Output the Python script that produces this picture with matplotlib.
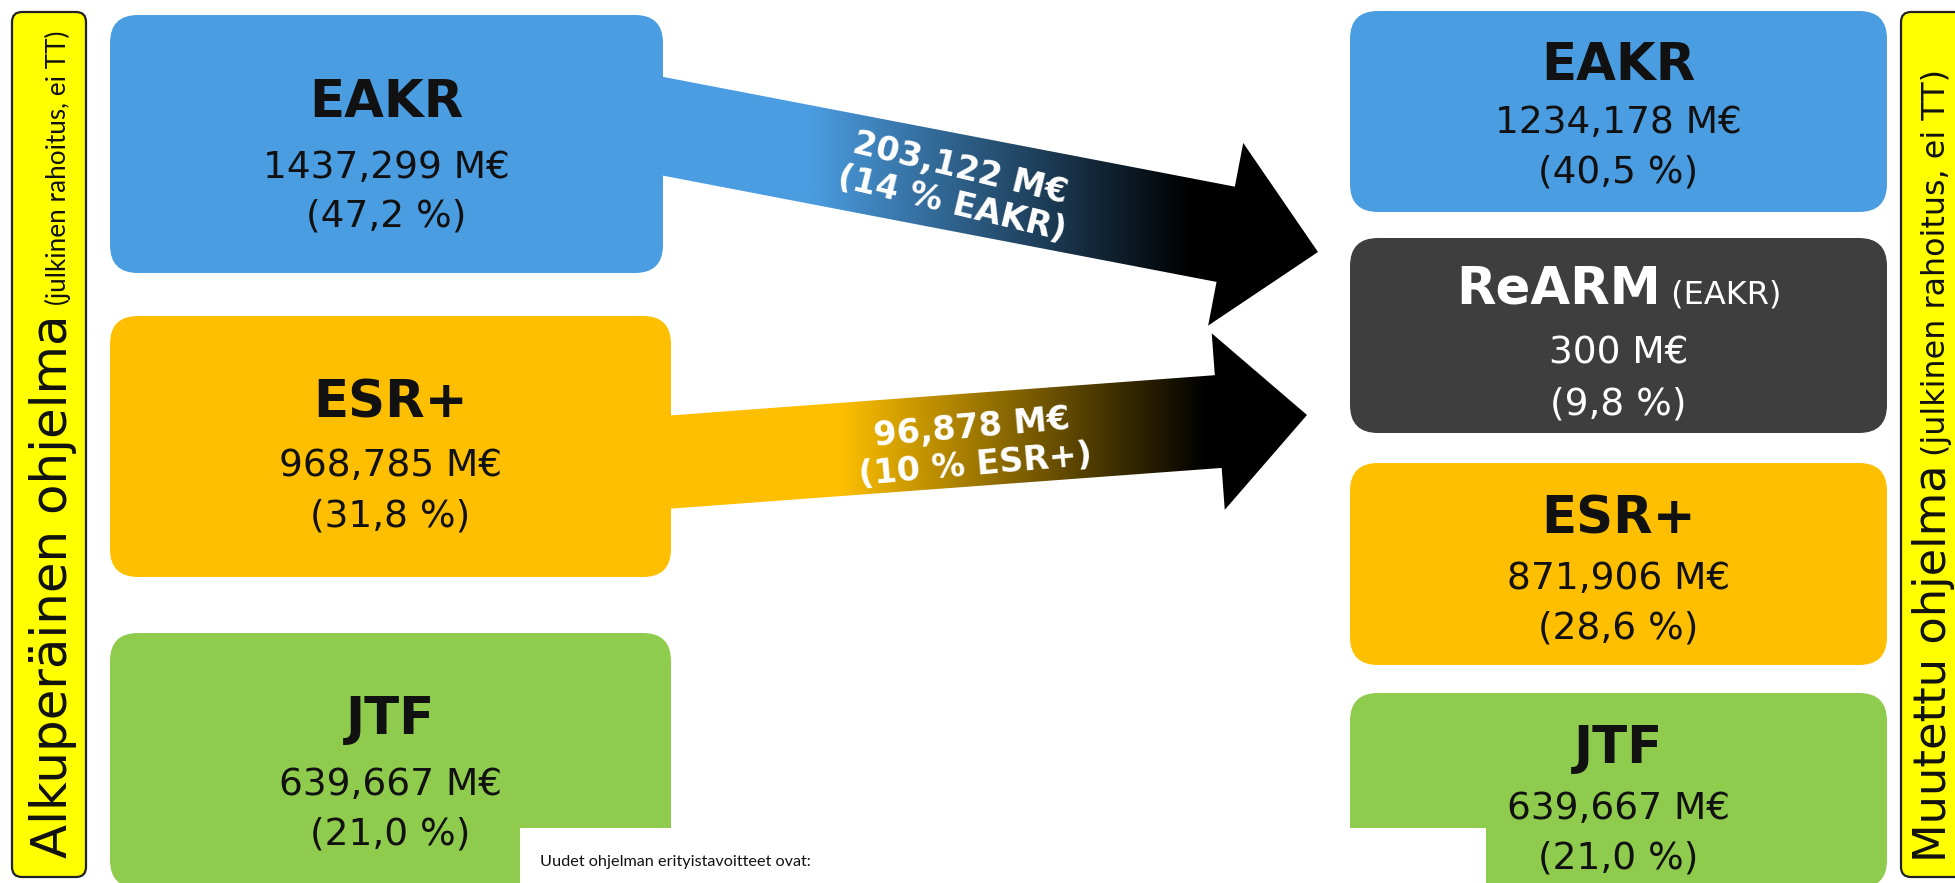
import numpy as np
import matplotlib
matplotlib.use("Agg")
import matplotlib.pyplot as plt
from matplotlib.patches import FancyBboxPatch, Polygon, Rectangle
from matplotlib import font_manager

plt.rcParams['font.family'] = ['DejaVu Sans']

# ---------------- data ----------------
left_funds = ['EAKR', 'ESR+', 'JTF']
left_values = [1437.299, 968.785, 639.667]
left_shares = [47.2, 31.8, 21.0]

right_funds = ['EAKR', 'ReARM', 'ESR+', 'JTF']
right_values = [1234.178, 300, 871.906, 639.667]
right_shares = [40.5, 9.8, 28.6, 21.0]
right_suffix = {'ReARM': '(EAKR)'}

transfer_src = ['EAKR', 'ESR+']
transfer_values = [203.122, 96.878]
transfer_shares = [14, 10]

left_label = ('Alkuperäinen ohjelma', '(julkinen rahoitus, ei TT)')
right_label = ('Muutettu ohjelma', '(julkinen rahoitus, ei TT)')
note_text = 'Uudet ohjelman erityistavoitteet ovat:'

# ---------------- style ----------------
colors = {'EAKR': '#4B9DE1', 'ESR+': '#FDBF00', 'JTF': '#8FCC4E', 'ReARM': '#3E3E3E'}
text_colors = {'EAKR': '#111111', 'ESR+': '#111111', 'JTF': '#111111', 'ReARM': '#FFFFFF'}
BAR_YELLOW = '#FFFF00'
NARROW = ['Lato', 'DejaVu Sans']
_installed = {f.name for f in font_manager.fontManager.ttflist}
CONDENSED = ['Liberation Sans Narrow'] if 'Liberation Sans Narrow' in _installed else NARROW

W, H = 1956, 883
fig = plt.figure(figsize=(W / 100, H / 100), dpi=100)
ax = fig.add_axes([0, 0, 1, 1])
ax.set_xlim(0, W)
ax.set_ylim(H, 0)
ax.axis('off')
renderer = fig.canvas.get_renderer()

TITLE_PT = 37
VALUE_PT = 27
SUFFIX_PT = 23

# box geometry (pixels): x, y, w, h  and baseline offsets of the three text rows
left_boxes = [(110, 15, 553, 258), (110, 316, 561, 261), (110, 633, 561, 255)]
left_offsets = [(102, 163, 212), (101, 160, 210), (101, 162, 212)]
right_boxes = [(1350, 11, 537, 201), (1350, 238, 537, 195), (1350, 463, 537, 202), (1350, 693, 537, 195)]
right_offsets = [(69, 122, 171), (66, 126, 176), (70, 126, 176), (70, 126, 175)]


def fmt_value(v):
    s = f'{int(v)}' if float(v).is_integer() else f'{v:.3f}'.replace('.', ',')
    return s + ' M€'


def fmt_share(p):
    return '(' + f'{p:.1f}'.replace('.', ',') + ' %)'


def text_width(s, **kw):
    t = ax.text(0, 0, s, **kw)
    w = t.get_window_extent(renderer=renderer).width
    t.remove()
    return w


def draw_box(x, y, w, h, fc, r=28, z=3):
    p = FancyBboxPatch((x, y), w, h, boxstyle=f'round,pad=0,rounding_size={r}',
                       facecolor=fc, edgecolor='none', zorder=z)
    ax.add_patch(p)


def draw_fund(box, fund, value, share, offsets, suffix=None):
    x, y, w, h = box
    draw_box(x, y, w, h, colors[fund])
    cx = x + w / 2
    tc = text_colors[fund]
    if suffix:
        w1 = text_width(fund, fontsize=TITLE_PT, weight='bold')
        w2 = text_width(' ' + suffix, fontsize=SUFFIX_PT)
        x0 = cx - (w1 + w2) / 2
        ax.text(x0, y + offsets[0], fund, fontsize=TITLE_PT, weight='bold', color=tc,
                ha='left', va='baseline', zorder=4)
        ax.text(x0 + w1, y + offsets[0], ' ' + suffix, fontsize=SUFFIX_PT, color=tc,
                ha='left', va='baseline', zorder=4)
    else:
        ax.text(cx, y + offsets[0], fund, fontsize=TITLE_PT, weight='bold', color=tc,
                ha='center', va='baseline', zorder=4)
    ax.text(cx, y + offsets[1], fmt_value(value), fontsize=VALUE_PT, color=tc,
            ha='center', va='baseline', zorder=4)
    ax.text(cx, y + offsets[2], fmt_share(share), fontsize=VALUE_PT, color=tc,
            ha='center', va='baseline', zorder=4)


for box, off, f, v, p in zip(left_boxes, left_offsets, left_funds, left_values, left_shares):
    draw_fund(box, f, v, p, off)
for box, off, f, v, p in zip(right_boxes, right_offsets, right_funds, right_values, right_shares):
    draw_fund(box, f, v, p, off, right_suffix.get(f))

# ---------------- arrows ----------------
arrow_geom = [
    # start, tip, shaft width, head width, head length, gradient start x, gradient end x,
    # label position (fraction along arrow), label vertical shift, text rotation
    ((580, 110.3), (1318, 252), 97, 186, 94, 810, 1190, 0.51, 4, -13.5),
    ((590, 468), (1307, 415), 93, 177, 89, 840, 1205, 0.535, 7, 5),
]


def arrow_pts(start, tip, sw, hw, hl):
    s = np.array(start, float)
    t = np.array(tip, float)
    u = (t - s) / np.linalg.norm(t - s)
    n = np.array([-u[1], u[0]])
    b = t - u * hl
    return np.array([s + n * sw / 2, b + n * sw / 2, b + n * hw / 2, t,
                     b - n * hw / 2, b - n * sw / 2, s - n * sw / 2]), s, u


for src, val, shr, geom in zip(transfer_src, transfer_values, transfer_shares, arrow_geom):
    start, tip, sw, hw, hl, g0, g1, frac, dy, rot = geom
    pts, s, u = arrow_pts(start, tip, sw, hw, hl)
    xmin, ymin = pts.min(axis=0)
    xmax, ymax = pts.max(axis=0)
    xs = np.linspace(xmin, xmax, 600)
    tt = np.clip((xs - g0) / (g1 - g0), 0, 1)
    base = np.array(matplotlib.colors.to_rgb(colors[src]))
    img = (base[None, :] * (1 - tt)[:, None])[None, :, :]
    im = ax.imshow(img, extent=(xmin, xmax, ymax, ymin), aspect='auto',
                   interpolation='bilinear', zorder=2)
    poly = Polygon(pts, closed=True, facecolor='none', edgecolor='none', zorder=2)
    ax.add_patch(poly)
    im.set_clip_path(poly)
    L = np.linalg.norm(np.array(tip) - s)
    c = s + u * (L * frac)
    ax.text(c[0], c[1] + dy, f'{fmt_value(val)}\n({shr} % {src})', fontsize=24, weight='bold',
            color='white', ha='center', va='center', rotation=rot, rotation_mode='anchor',
            linespacing=1.15, zorder=3)

# ---------------- side labels ----------------
def draw_bar(x, y, w, h):
    p = FancyBboxPatch((x, y), w, h, boxstyle='round,pad=0,rounding_size=10',
                       facecolor=BAR_YELLOW, edgecolor='#222222', linewidth=1.6, zorder=3)
    ax.add_patch(p)


def fit_rot(s, length, **kw):
    t = ax.text(0, 0, s, fontsize=10, rotation=90, **kw)
    hgt = t.get_window_extent(renderer=renderer).height
    t.remove()
    return 10 * length / hgt


def side_label(x_base, y_bottom, big, small, big_len, small_len, small_family, gap=8):
    fs1 = fit_rot(big, big_len)
    fs2 = fit_rot(small, small_len, family=small_family)
    ax.text(x_base, y_bottom, big, fontsize=fs1, rotation=90, rotation_mode='anchor',
            ha='left', va='baseline', color='#111111', zorder=4)
    ax.text(x_base - 1, y_bottom - big_len - gap, small, fontsize=fs2, rotation=90,
            family=small_family, rotation_mode='anchor', ha='left', va='baseline',
            color='#111111', zorder=4)


draw_bar(12, 12, 74, 865)
draw_bar(1901, 12, 90, 865)
side_label(67, 858, left_label[0], left_label[1], 545, 275, CONDENSED)
side_label(1946, 862, right_label[0], right_label[1], 398, 386, ['DejaVu Sans'])

# ---------------- note box ----------------
ax.add_patch(Rectangle((520, 828), 966, 70, facecolor='white', edgecolor='none', zorder=6))
fs_note = 10 * 272 / text_width(note_text, fontsize=10, family=NARROW)
ax.text(540, 862, note_text, fontsize=fs_note, family=NARROW, color='#111111',
        ha='left', va='center', zorder=7)

ax.set_xlim(0, W)
ax.set_ylim(H, 0)
fig.savefig('out.png', dpi=100, facecolor='white')
